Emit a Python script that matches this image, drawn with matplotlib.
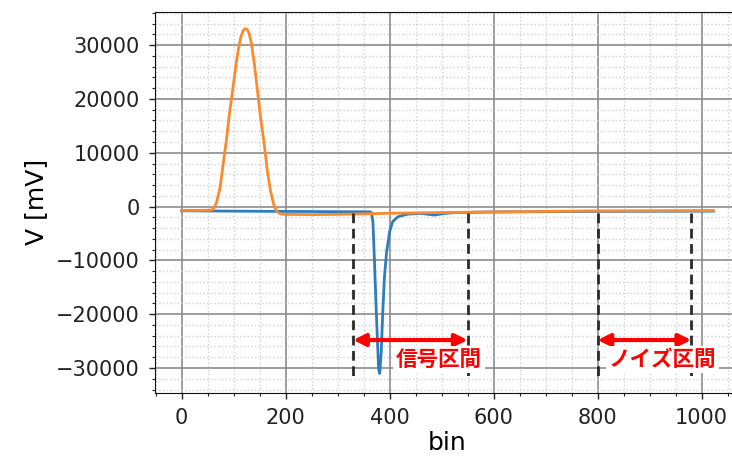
import matplotlib
matplotlib.use('Agg')
import matplotlib.pyplot as plt
from matplotlib.ticker import AutoMinorLocator

# waveform (bin, mV)
orange_bin = [0, 30, 55, 61, 67, 74, 80, 86, 92, 99, 105, 110, 114, 118, 121, 124, 127, 130, 134, 140, 146, 152, 159, 165, 171,
              178, 184, 191, 200, 250, 300, 350, 400, 500, 600, 700, 800, 900, 1023]
orange_mv = [-700, -700, -680, -500, 700, 3500, 7900, 12200, 17200, 22200, 26600, 29600, 31500, 32600, 33000, 33050, 32800,
             32100, 30500, 26500, 21500, 16500, 11600, 6600, 2900, 100, -1000, -1400, -1450,
             -1500, -1450, -1350, -1250, -1100, -1000, -900, -800, -780, -750]

blue_bin = [0, 100, 200, 300, 362, 365, 368, 371, 374, 377, 379, 381, 384, 387, 390, 394, 400, 406, 416, 435, 461, 486, 506, 530,
            600, 700, 800, 900, 1023]
blue_mv = [-780, -850, -900, -950, -970, -1100, -2800, -10200, -18300, -25700, -30200, -31000, -27000, -19500, -13300, -8700,
           -4700, -2800, -1900, -1400, -1270, -1580, -1270, -1100, -1000, -950, -900, -880, -850]

cut_bins = [330, 550, 800, 980]
cut_top, cut_bottom = -1200, -31500
spans = [(330, 550, '信号区間', 495), (800, 980, 'ノイズ区間', 925)]
arrow_mv = -24800
label_mv = -28400

fig = plt.figure(figsize=(7.32, 4.61), dpi=100)
ax = fig.add_axes([0.2117, 0.148, 0.7994, 0.8265])

ax.plot(blue_bin, blue_mv, color='#2d7dbd', lw=2.0, zorder=3)
ax.plot(orange_bin, orange_mv, color='#fb8a2c', lw=2.0, zorder=4)

for b in cut_bins:
    ax.plot([b, b], [cut_top, cut_bottom], color='#2a2a2a', lw=2, ls=(0, (3.5, 2)), zorder=5)

for x0, x1, lab, xc in spans:
    ax.annotate('', xy=(x1, arrow_mv), xytext=(x0, arrow_mv),
                arrowprops=dict(arrowstyle='<|-|>', color='#ff0000', lw=3, mutation_scale=18,
                                shrinkA=0, shrinkB=0), zorder=6)
    ax.text(xc, label_mv, lab, color='#ff0000', fontsize=15.5, fontweight='bold',
            family=['Noto Sans CJK JP', 'DejaVu Sans'], ha='center', va='center', zorder=6,
            bbox=dict(facecolor='white', edgecolor='none', pad=2))

ax.set_xlim(-51.15, 1074.15)
ax.set_ylim(-34600, 36200)
ax.set_xticks([0, 200, 400, 600, 800, 1000])
ax.set_yticks([-30000, -20000, -10000, 0, 10000, 20000, 30000])
ax.xaxis.set_minor_locator(AutoMinorLocator(4))
ax.yaxis.set_minor_locator(AutoMinorLocator(5))
ax.grid(which='major', color='#8c8c8c', lw=1.2)
ax.grid(which='minor', color='#d0d0d0', lw=1, ls=':')
ax.set_axisbelow(True)
ax.tick_params(which='major', length=4, width=1, labelsize=15, pad=7, colors='#222222')
ax.tick_params(which='minor', length=2.5, width=0.8, colors='#222222')
for s in ax.spines.values():
    s.set_color('#111111')
ax.set_xlabel('bin', fontsize=18, labelpad=2)
ax.set_ylabel('V [mV]', fontsize=18, labelpad=6)

fig.savefig('out.png', dpi=100)
